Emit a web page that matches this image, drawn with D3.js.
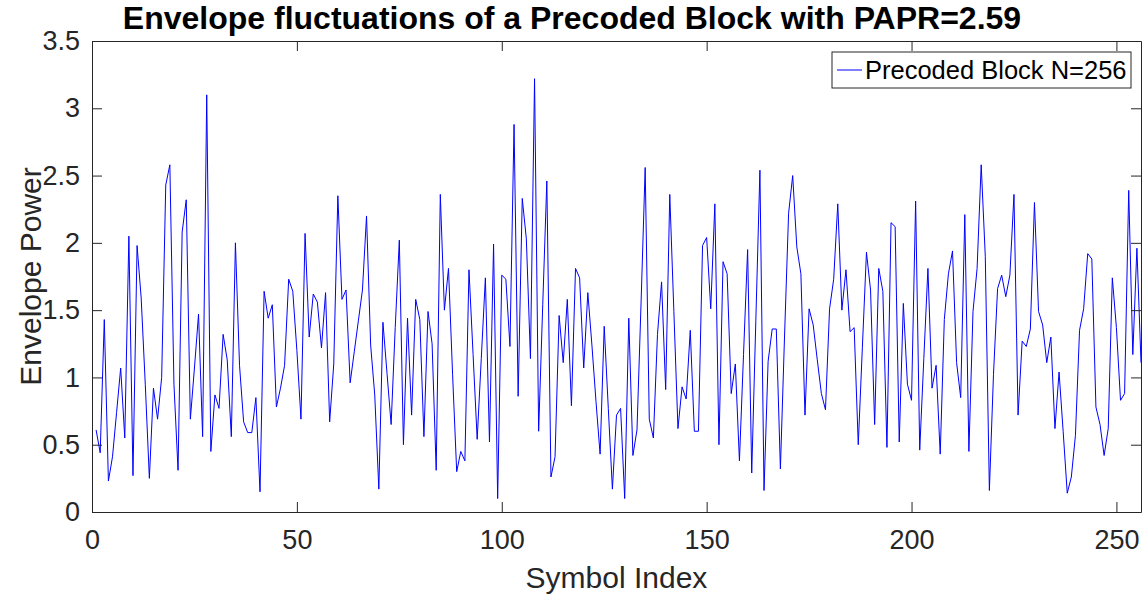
<!DOCTYPE html>
<html>
<head>
<meta charset="utf-8">
<script src="https://cdn.jsdelivr.net/npm/d3@7"></script>
<style>
  body { margin: 0; background: #fff; }
  svg { font-family: "Liberation Sans", Arial, sans-serif; }
</style>
</head>
<body>
<div id="chart"></div>
<script>
// envelope power per symbol (symbol 1..256)
var envelope = [
  0.61, 0.44, 1.43, 0.23, 0.41, 0.74, 1.07, 0.55, 2.05, 0.27,
  1.98, 1.59, 0.95, 0.25, 0.92, 0.69, 1.00, 2.43, 2.58, 0.95,
  0.31, 2.08, 2.32, 0.69, 1.07, 1.47, 0.56, 3.10, 0.45, 0.87,
  0.77, 1.32, 1.13, 0.56, 2.00, 1.09, 0.67, 0.59, 0.59, 0.85,
  0.15, 1.64, 1.44, 1.54, 0.78, 0.92, 1.09, 1.73, 1.64, 1.20,
  0.69, 2.07, 1.30, 1.62, 1.56, 1.22, 1.63, 0.67, 1.10, 2.35,
  1.58, 1.65, 0.96, 1.19, 1.42, 1.65, 2.20, 1.24, 0.87, 0.17,
  1.41, 1.03, 0.65, 1.37, 2.02, 0.50, 1.44, 0.72, 1.58, 1.43,
  0.56, 1.49, 1.25, 0.31, 2.36, 1.50, 1.81, 1.02, 0.30, 0.45,
  0.38, 1.80, 1.17, 0.54, 1.14, 1.74, 0.52, 1.99, 0.10, 1.76,
  1.73, 1.23, 2.88, 0.86, 2.33, 2.03, 1.14, 3.22, 0.60, 1.54,
  2.46, 0.26, 0.41, 1.46, 1.11, 1.58, 0.79, 1.81, 1.74, 1.07,
  1.63, 1.24, 0.82, 0.43, 1.38, 0.77, 0.17, 0.72, 0.77, 0.10,
  1.44, 0.42, 0.61, 1.56, 2.56, 0.69, 0.55, 1.32, 1.71, 0.91,
  2.36, 1.49, 0.62, 0.93, 0.84, 1.35, 0.60, 0.60, 1.98, 2.04,
  1.51, 2.29, 0.50, 1.86, 1.77, 0.88, 1.10, 0.38, 1.17, 1.95,
  0.29, 1.42, 2.54, 0.16, 1.12, 1.36, 1.36, 0.32, 1.30, 2.22,
  2.50, 1.97, 1.77, 0.72, 1.51, 1.39, 1.13, 0.88, 0.76, 1.51,
  1.73, 2.29, 1.50, 1.80, 1.34, 1.37, 0.50, 1.22, 1.93, 1.65,
  0.65, 1.81, 1.64, 0.48, 2.15, 2.12, 0.52, 1.55, 0.95, 0.83,
  2.31, 0.46, 1.14, 1.81, 0.92, 1.09, 0.43, 1.43, 1.77, 1.94,
  1.11, 0.85, 2.21, 0.45, 1.49, 1.81, 2.58, 1.90, 0.16, 1.02,
  1.66, 1.76, 1.60, 1.76, 2.36, 0.72, 1.27, 1.23, 1.36, 2.30,
  1.49, 1.39, 1.11, 1.30, 0.62, 1.04, 0.60, 0.14, 0.26, 0.57,
  1.35, 1.51, 1.92, 1.88, 0.78, 0.65, 0.42, 0.62, 1.74, 1.37,
  0.83, 0.88, 2.39, 1.17, 1.96, 1.11
];
var xTicks = [0, 50, 100, 150, 200, 250];
var yTicks = [0, 0.5, 1, 1.5, 2, 2.5, 3, 3.5];
var titleText = "Envelope fluctuations of a Precoded Block with PAPR=2.59";
var xLabel = "Symbol Index";
var yLabel = "Envelope Power";
var legendText = "Precoded Block N=256";

var W = 1148, H = 598;
var margin = {top: 41, right: 7, bottom: 86, left: 92};
var width = W - margin.left - margin.right,
    height = H - margin.top - margin.bottom;
var axisColor = "#262626";

var svg = d3.select("#chart").append("svg")
    .attr("width", W)
    .attr("height", H);

var g = svg.append("g")
    .attr("transform", "translate(" + margin.left + "," + margin.top + ")");

var x = d3.scaleLinear().domain([0, 256]).range([0, width]);
var y = d3.scaleLinear().domain([0, 3.5]).range([height, 0]);

// the line
var line = d3.line()
    .x(function(d, i) { return x(i + 1); })
    .y(function(d) { return y(d); });

g.append("path")
    .datum(envelope)
    .attr("fill", "none")
    .attr("stroke", "#0000ff")
    .attr("stroke-width", 1)
    .attr("d", line);

// axes, matlab style: ticks inside, box on
function styleAxis(sel, showLabels) {
    sel.selectAll("path").attr("stroke", axisColor).attr("stroke-width", 1);
    sel.selectAll("line").attr("stroke", axisColor).attr("stroke-width", 1);
    sel.selectAll("text")
        .attr("fill", axisColor)
        .style("font-size", "27px")
        .style("font-family", "Liberation Sans, Arial, sans-serif");
    if (!showLabels) sel.selectAll("text").remove();
}

var xb = g.append("g")
    .attr("transform", "translate(0," + height + ")")
    .call(d3.axisBottom(x).tickValues(xTicks).tickSizeInner(-10).tickSizeOuter(0).tickPadding(18).tickFormat(d3.format("d")));
styleAxis(xb, true);

var xt = g.append("g")
    .call(d3.axisTop(x).tickValues(xTicks).tickSizeInner(-10).tickSizeOuter(0));
styleAxis(xt, false);

var yl = g.append("g")
    .call(d3.axisLeft(y).tickValues(yTicks).tickSizeInner(-10).tickSizeOuter(0).tickPadding(12).tickFormat(function(d) { return d; }));
styleAxis(yl, true);

var yr = g.append("g")
    .attr("transform", "translate(" + width + ",0)")
    .call(d3.axisRight(y).tickValues(yTicks).tickSizeInner(-10).tickSizeOuter(0));
styleAxis(yr, false);

// title + axis labels
svg.append("text")
    .attr("x", 572).attr("y", 29)
    .attr("text-anchor", "middle")
    .style("font-size", "32px")
    .style("font-weight", "bold")
    .attr("fill", "#000")
    .text(titleText);

svg.append("text")
    .attr("x", margin.left + width / 2).attr("y", 588)
    .attr("text-anchor", "middle")
    .style("font-size", "30px")
    .attr("fill", axisColor)
    .text(xLabel);

svg.append("text")
    .attr("transform", "translate(41," + (margin.top + height / 2) + ") rotate(-90)")
    .attr("text-anchor", "middle")
    .style("font-size", "30px")
    .attr("fill", axisColor)
    .text(yLabel);

// legend
var leg = svg.append("g").attr("transform", "translate(832,52)");
leg.append("rect")
    .attr("width", 299).attr("height", 36)
    .attr("fill", "#fff")
    .attr("stroke", axisColor)
    .attr("stroke-width", 1);
leg.append("line")
    .attr("x1", 5).attr("x2", 30)
    .attr("y1", 18).attr("y2", 18)
    .attr("stroke", "#0000ff").attr("stroke-width", 1);
leg.append("text")
    .attr("x", 33).attr("y", 27)
    .style("font-size", "25.5px")
    .attr("fill", "#000")
    .text(legendText);
</script>
</body>
</html>
